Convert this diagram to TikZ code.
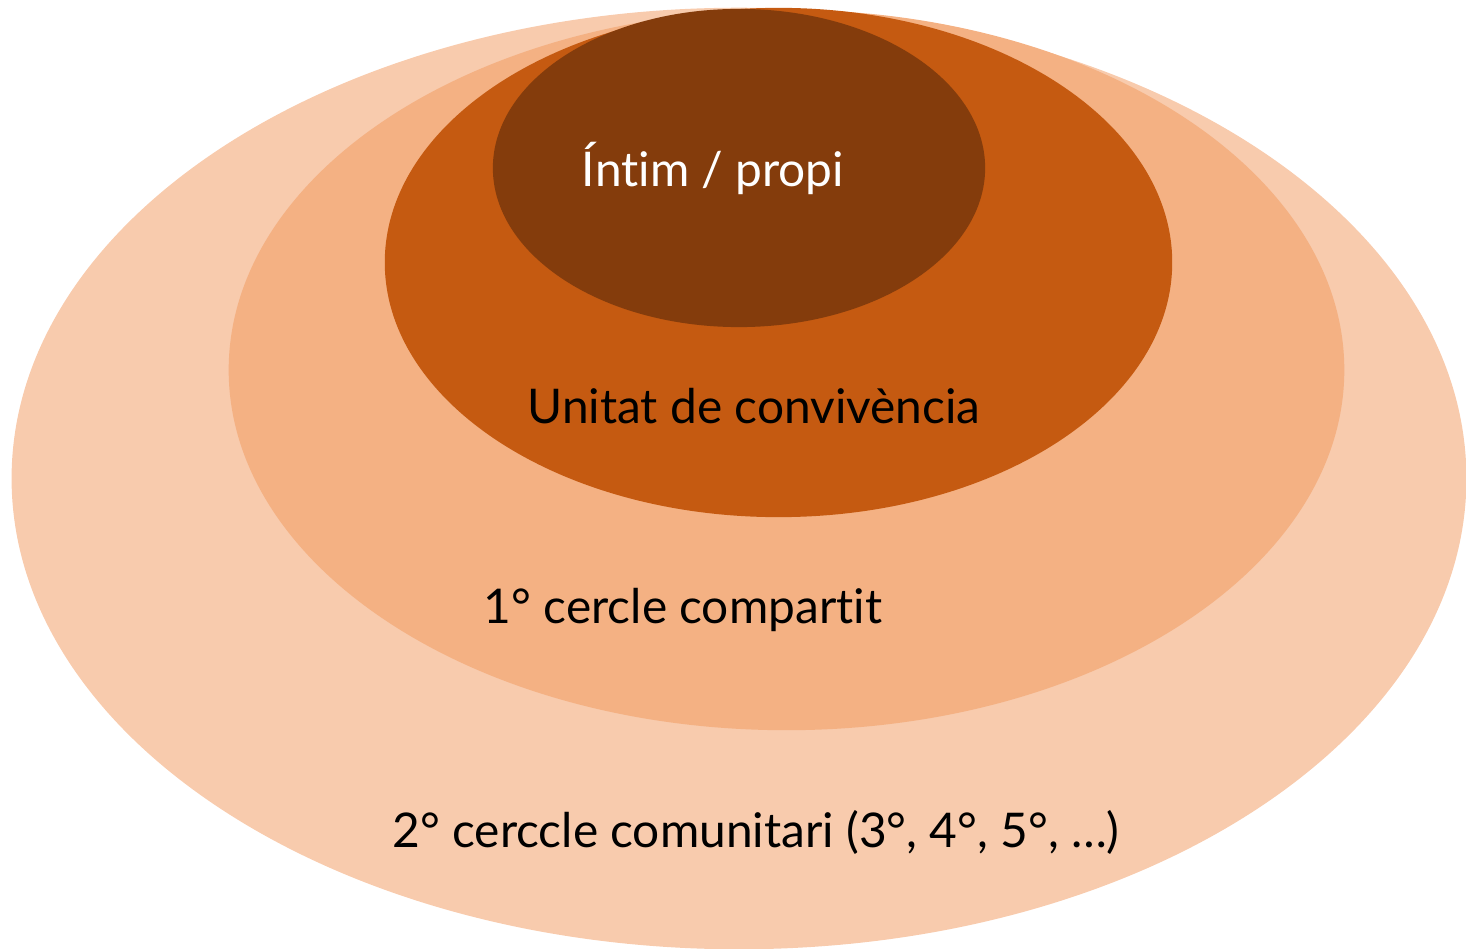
\documentclass[tikz,border=0pt]{standalone}
\usepackage{fontspec}
\setmainfont{Lato}[Ligatures={NoCommon}]
\usetikzlibrary{positioning, shapes.geometric}
\definecolor{ringC}{HTML}{F8CBAD}
\definecolor{ringB}{HTML}{F4B183}
\definecolor{ringA}{HTML}{C55A11}
\definecolor{ringI}{HTML}{843C0C}
\tikzset{
  ring/.style  ={ellipse, draw=none, inner sep=0pt},
  lbl/.style   ={font=\fontsize{13.6}{16}\selectfont, inner sep=0pt, anchor=center},
}
\begin{document}
\begin{tikzpicture}[x=0.01cm, y=-0.01cm]
\useasboundingbox (0,0) rectangle (1466,949);

% --- nested circles ---
\node[ring, fill=ringC, minimum width=14.54cm, minimum height=9.41cm] (outer) at (739,478.5) {};
\node[ring, fill=ringB, minimum width=11.15cm, minimum height=7.20cm] (first) at (786.5,370) {};
\node[ring, fill=ringA, minimum width=7.87cm,  minimum height=5.09cm] (unit)  at (778.5,262.5) {};
\node[ring, fill=ringI, minimum width=4.92cm,  minimum height=3.18cm] (intim) at (739,168) {};

% --- labels ---
\node[lbl, text=white] (intimtxt) at (713,168) {Íntim / propi};
\node[lbl] (unittxt)   at (754,406) {Unitat de convivència};
\node[lbl] (firsttxt)  at (683,610) {1° cercle compartit};
\node[lbl] (outertxt)  at (756,832) {2° cerccle comunitari (3°, 4°, 5°, …)};

\end{tikzpicture}
\end{document}
